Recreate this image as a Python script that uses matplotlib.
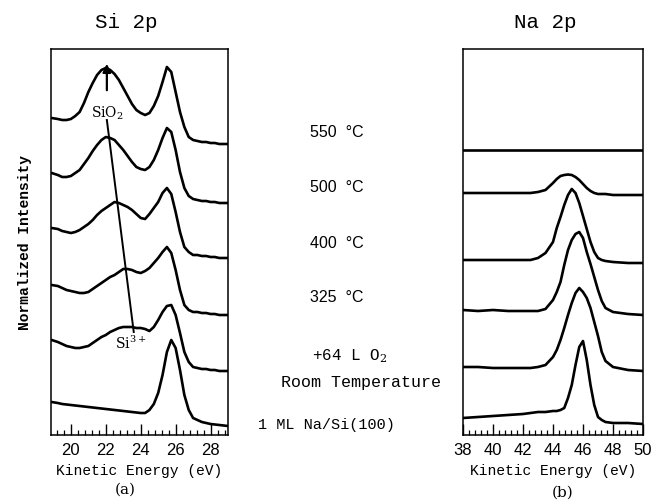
import matplotlib
matplotlib.use('Agg')
import matplotlib.pyplot as plt
from matplotlib.ticker import MultipleLocator

plt.rcParams['mathtext.fontset'] = 'dejavuserif'

# (a) Si 2p spectra (arbitrary units, relative to each trace's left baseline)
si_energy = [18.9, 19.25, 19.5, 19.75, 20.0, 20.25, 20.5, 20.75, 21.0, 21.25, 21.5, 21.75,
             22.0, 22.25, 22.5, 22.75, 23.0, 23.25, 23.5, 23.75, 24.0, 24.25, 24.5, 24.75,
             25.0, 25.25, 25.5, 25.75, 26.0, 26.25, 26.5, 26.75, 27.0, 27.25, 27.5, 27.75,
             28.0, 28.25, 28.5, 28.75, 29.0]
si_550 = [0, -1, -2, -2, -1, 2, 6, 15, 26, 35, 43, 48, 50, 48, 44, 38, 30, 22, 14, 8, 5, 3, 5, 12,
          22, 36, 51, 46, 26, 6, -9, -19, -22, -23, -24, -24, -25, -25, -26, -26, -26]
si_500 = [0, -2, -4, -4, -3, 0, 3, 9, 15, 22, 28, 33, 36, 35, 33, 28, 23, 17, 11, 6, 4, 3, 6, 13,
          23, 35, 45, 41, 23, 1, -15, -23, -26, -27, -28, -28, -29, -29, -30, -30, -30]
si_400 = [0, -1, -3, -4, -5, -4, -2, 1, 4, 8, 13, 17, 20, 23, 26, 25, 23, 21, 18, 14, 10, 9, 14, 20,
          26, 35, 40, 34, 16, -4, -19, -24, -27, -27, -28, -28, -29, -29, -30, -30, -30]
si_325 = [0, -1, -3, -5, -6, -7, -8, -8, -7, -4, -1, 2, 5, 8, 10, 13, 16, 16, 15, 13, 12, 14, 17, 22,
          27, 33, 38, 32, 15, -5, -20, -25, -27, -27, -28, -28, -29, -29, -30, -30, -30]
si_o2 = [0, -2, -4, -6, -7, -8, -8, -7, -6, -3, 0, 3, 5, 8, 10, 12, 13, 13, 13, 12, 12, 11, 9, 13,
         20, 28, 34, 35, 25, 7, -12, -22, -27, -28, -29, -29, -30, -30, -31, -31, -31]
si_rt = [0, -1, -2, -2.5, -3, -3.5, -4, -4.5, -5, -5.5, -6, -6.5, -7, -7.5, -8, -8.5, -9, -9.5, -10,
         -10.5, -11, -11, -8, -2, 9, 27, 50, 62, 54, 32, 7, -8, -16, -18, -20, -21, -22, -22.5, -23,
         -23.5, -24]
si_offsets = [317, 262, 207, 150, 95, 33]

# (b) Na 2p spectra
na_energy = [38, 39, 40, 41, 42, 42.5, 43, 43.5, 44, 44.25, 44.5, 44.75, 45, 45.25, 45.5,
             45.75, 46, 46.25, 46.5, 46.75, 47, 47.25, 47.5, 48, 49, 50]
na_550 = [0] * len(na_energy)
na_500 = [0, 0, 0, 0, 0, 0, 1, 3, 10, 14, 17, 18, 18.5, 18, 16, 13, 9, 5, 2, 0, -1, -1, -1, -2, -2, -2]
na_400 = [0, 0, 0, 0, 0, 0, 2, 7, 18, 32, 43, 55, 65, 71, 67, 57, 44, 31, 18, 8, 2, 0, -1, -2, -3, -3]
na_325 = [0, -1, 0, -1, -1, -1, -1, 1, 10, 18, 28, 45, 60, 70, 76, 78, 72, 58, 46, 33, 20, 9, 2, -2, -4, -5]
na_o2 = [0, 0, -1, -1, -1, -1, 0, 2, 10, 17, 27, 39, 52, 64, 74, 79, 75, 69, 59, 45, 31, 15, 6, 0, -3, -4]
na_rt = [0, 1, 2, 3, 4, 5, 6, 6, 7, 7, 8, 10, 20, 33, 53, 71, 77, 58, 33, 13, 1, -2, -4, -5, -5, -6]
na_offsets = [285, 242, 175, 125, 68, 17]

temp_labels = ['550  °C', '500  °C', '400  °C', '325  °C']

W, H = 653, 503
fig = plt.figure(figsize=(W / 100, H / 100), dpi=100)

def fx(px):
    return px / W

def fy(py):
    return 1 - py / H

ax1 = fig.add_axes([fx(51), fy(435), fx(228) - fx(51), fy(49) - fy(435)])
ax2 = fig.add_axes([fx(463), fy(435), fx(643) - fx(463), fy(49) - fy(435)])

for trace, off in zip([si_550, si_500, si_400, si_325, si_o2, si_rt], si_offsets):
    ax1.plot(si_energy, [v + off for v in trace], color='black', lw=1.9,
             solid_joinstyle='round', solid_capstyle='round')

for trace, off in zip([na_550, na_500, na_400, na_325, na_o2, na_rt], na_offsets):
    ax2.plot(na_energy, [v + off for v in trace], color='black', lw=1.9,
             solid_joinstyle='round', solid_capstyle='round')

ax1.set_xlim(18.86, 29.0)
ax2.set_xlim(38, 50)
for ax in (ax1, ax2):
    ax.set_ylim(0, 386)
    ax.set_yticks([])
    ax.xaxis.set_major_locator(MultipleLocator(2))
    ax.xaxis.set_minor_locator(MultipleLocator(0.4))
    ax.tick_params(axis='x', which='major', direction='in', length=8, width=1,
                   labelsize=12, pad=6)
    ax.tick_params(axis='x', which='minor', direction='in', length=3.5, width=0.9)
    for lab in ax.get_xticklabels():
        lab.set_family('Liberation Sans')
    for s in ax.spines.values():
        s.set_linewidth(1.1)
    ax.set_xlabel('Kinetic Energy (eV)', family='Liberation Mono', fontsize=10.5, labelpad=4)

ax1.set_ylabel('Normalized Intensity', family='Liberation Mono', fontsize=10.5,
               fontweight='bold', labelpad=14)

# peak-shift marker
ax1.annotate('', xy=(22.06, 374), xytext=(22.06, 342),
             arrowprops=dict(arrowstyle='-|>', color='black', lw=1.6, mutation_scale=12))
ax1.plot([22.06, 23.6], [315, 103], color='black', lw=1.4)
ax1.text(22.06, 322, 'SiO$_2$', ha='center', va='center', fontsize=10, family='DejaVu Serif')
ax1.text(23.4, 92, 'Si$^{3+}$', ha='center', va='center', fontsize=10, family='DejaVu Serif')

fig.text(fx(126), fy(22), 'Si 2p', ha='center', va='center', family='Liberation Mono', fontsize=15)
fig.text(fx(545), fy(22), 'Na 2p', ha='center', va='center', family='Liberation Mono', fontsize=15)

for lab, py in zip(temp_labels, [133, 188, 243, 298]):
    fig.text(fx(310), fy(py), lab, ha='left', va='center', family='Liberation Sans', fontsize=11.5)
fig.text(fx(312), fy(356), '+64 L O$_2$', ha='left', va='center', family='Liberation Mono', fontsize=11.5)
fig.text(fx(281), fy(382), 'Room Temperature', ha='left', va='center', family='Liberation Mono', fontsize=12)
fig.text(fx(258), fy(425), '1 ML Na/Si(100)', ha='left', va='center', family='Liberation Mono', fontsize=11)

fig.text(fx(125), fy(490), '(a)', ha='center', va='center', family='DejaVu Serif', fontsize=11)
fig.text(fx(563), fy(493), '(b)', ha='center', va='center', family='DejaVu Serif', fontsize=11)

fig.savefig('out.png', dpi=100)
